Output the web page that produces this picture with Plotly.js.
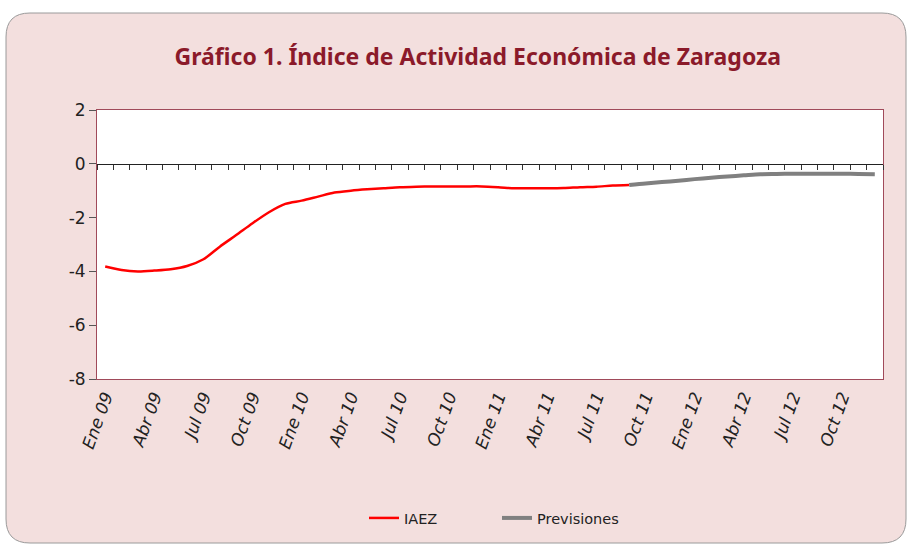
<!DOCTYPE html>
<html>
<head>
<meta charset="utf-8">
<script src="https://cdn.plot.ly/plotly-3.0.1.min.js"></script>
<style>html,body{margin:0;padding:0;background:#fff;}#chart{width:912px;height:547px;}</style>
</head>
<body>
<div id="chart"></div>
<script>
// Months Ene 09 .. Dic 12
const monthNames = ["Ene","Feb","Mar","Abr","May","Jun","Jul","Ago","Sep","Oct","Nov","Dic"];
const years = ["09","10","11","12"];
const categories = [];
years.forEach(y => monthNames.forEach(m => categories.push(m + " " + y)));

// IAEZ observed: Ene 09 .. Sep 11
const iaezCategories = categories.slice(0, 33);
const iaezValues = [-3.82,-3.95,-4.00,-3.97,-3.92,-3.80,-3.55,-3.08,-2.65,-2.21,-1.80,-1.49,
                    -1.37,-1.22,-1.07,-1.00,-0.95,-0.91,-0.87,-0.85,-0.84,-0.84,-0.84,-0.84,
                    -0.87,-0.91,-0.91,-0.91,-0.90,-0.87,-0.85,-0.81,-0.79];
// Previsiones: Sep 11 .. Dic 12
const prevCategories = categories.slice(32, 48);
const prevValues = [-0.79,-0.73,-0.68,-0.63,-0.57,-0.52,-0.47,-0.43,-0.39,-0.38,-0.37,-0.37,-0.37,-0.37,-0.38,-0.39];

const tickCategories = categories.filter((c, i) => i % 3 === 0);
const yTickVals = [2, 0, -2, -4, -6, -8];
const yTickText = ["2", "0", "-2", "-4", "-6", "-8"];

// layout geometry (pixels)
const W = 912, H = 547;
const M = {l: 97, r: 29, t: 110, b: 168};
const PW = W - M.l - M.r, PH = H - M.t - M.b;
const px = x => (x - M.l) / PW;
const py = y => (H - M.b - y) / PH;

function roundRect(x0, y0, x1, y1, r) {
  return `M ${px(x0 + r)} ${py(y0)} L ${px(x1 - r)} ${py(y0)} Q ${px(x1)} ${py(y0)} ${px(x1)} ${py(y0 + r)} ` +
         `L ${px(x1)} ${py(y1 - r)} Q ${px(x1)} ${py(y1)} ${px(x1 - r)} ${py(y1)} ` +
         `L ${px(x0 + r)} ${py(y1)} Q ${px(x0)} ${py(y1)} ${px(x0)} ${py(y1 - r)} ` +
         `L ${px(x0)} ${py(y0 + r)} Q ${px(x0)} ${py(y0)} ${px(x0 + r)} ${py(y0)} Z`;
}

const traces = [
  {
    x: iaezCategories, y: iaezValues, name: "IAEZ", type: "scatter", mode: "lines",
    line: {color: "#ff0000", width: 2.5, shape: "spline", smoothing: 0.8}
  },
  {
    x: prevCategories, y: prevValues, name: "Previsiones", type: "scatter", mode: "lines",
    line: {color: "#808080", width: 4, shape: "spline", smoothing: 0.8}
  },
  {
    x: categories, y: categories.map(() => null), xaxis: "x2", yaxis: "y",
    type: "scatter", mode: "lines", showlegend: false, hoverinfo: "skip"
  }
];

const frameColor = "#a04a5a";
const layout = {
  width: W, height: H,
  margin: M,
  paper_bgcolor: "#ffffff",
  plot_bgcolor: "#ffffff",
  showlegend: true,
  title: {
    text: "<b>Gráfico 1. Índice de Actividad Económica de Zaragoza</b>",
    font: {family: "Noto Sans", size: 23, color: "#8b1a2a"},
    x: 0.524, xanchor: "center", y: 0.895, yanchor: "middle"
  },
  xaxis: {
    type: "category", categoryorder: "array", categoryarray: categories,
    range: [-0.5, 47.5],
    tickmode: "array", tickvals: tickCategories,
    ticks: "", tickangle: -70,
    tickfont: {family: "DejaVu Sans", size: 17, color: "#222", style: "italic"},
    showline: true, mirror: true, linecolor: frameColor, linewidth: 1,
    showgrid: false, zeroline: false, fixedrange: true
  },
  xaxis2: {
    type: "category", categoryorder: "array", categoryarray: categories,
    overlaying: "x", anchor: "free", position: 0.8, side: "bottom",
    range: [-0.5, 47.5],
    tickmode: "linear", tick0: 0, dtick: 1, tickson: "boundaries",
    ticks: "outside", ticklen: 5, tickcolor: "#333", tickwidth: 1,
    showticklabels: false, showline: true, linecolor: "#222", linewidth: 1,
    showgrid: false, zeroline: false, fixedrange: true
  },
  yaxis: {
    range: [-8, 2], tickmode: "array", tickvals: yTickVals, ticktext: yTickText,
    ticks: "outside", ticklen: 7, tickcolor: "#555",
    tickfont: {family: "DejaVu Sans", size: 17, color: "#222"},
    showline: true, mirror: true, linecolor: frameColor, linewidth: 1,
    showgrid: false, zeroline: false, fixedrange: true
  },
  legend: {
    orientation: "h", x: px(497), xanchor: "center", y: py(518), yanchor: "middle",
    font: {family: "DejaVu Sans", size: 14.5, color: "#222"},
    entrywidth: 88, entrywidthmode: "pixels",
    bgcolor: "rgba(0,0,0,0)"
  },
  shapes: [
    {
      type: "path", xref: "paper", yref: "paper", layer: "below",
      path: roundRect(6, 13, 906, 543, 24),
      fillcolor: "#f3dfde", line: {color: "#9a9a9a", width: 1}
    },
    {
      type: "rect", xref: "paper", yref: "paper", layer: "below",
      x0: 0, x1: 1, y0: 0, y1: 1,
      fillcolor: "#ffffff", line: {width: 0}
    }
  ]
};

Plotly.newPlot("chart", traces, layout, {displayModeBar: false, staticPlot: true});
</script>
</body>
</html>
